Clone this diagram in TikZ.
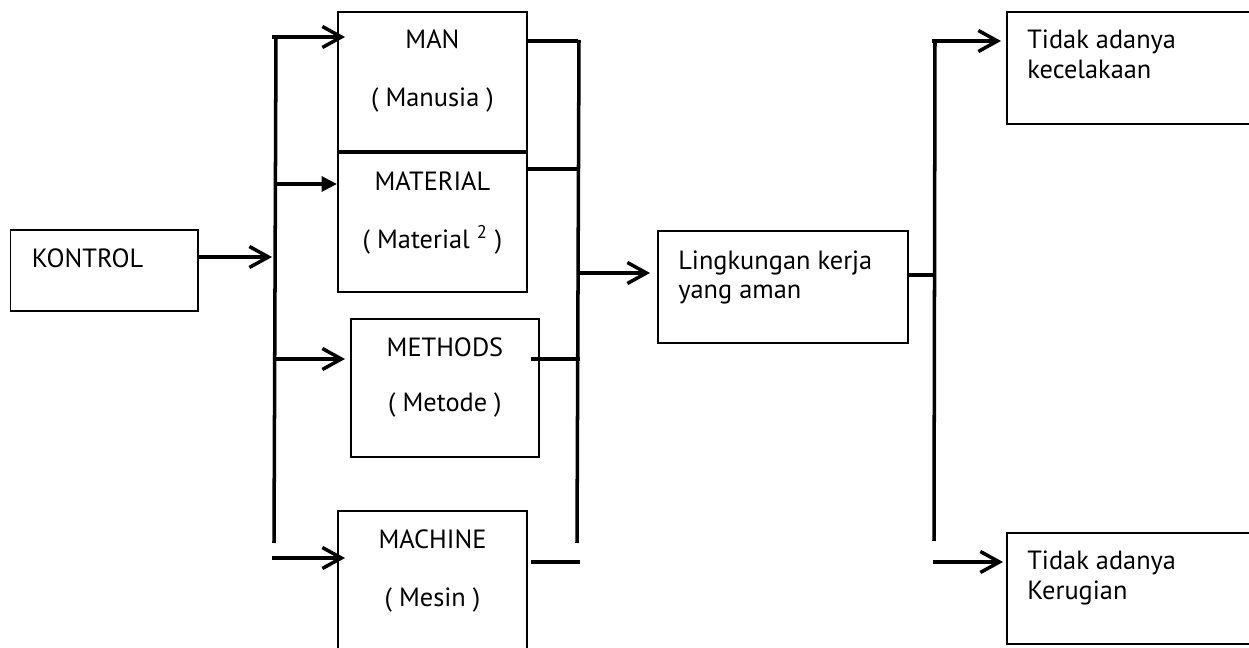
\documentclass[tikz,border=0pt]{standalone}
\usepackage{fontspec}
\setmainfont{PT Sans}
\usetikzlibrary{calc,positioning,arrows.meta}

\begin{document}
\begin{tikzpicture}[x=0.02cm, y=-0.02cm, font=\fontsize{15}{17}\selectfont,
  block/.style={draw, line width=1.1pt, anchor=north west, inner sep=0pt},
  midtext/.style={anchor=north, inner sep=0pt, align=center},
  lefttext/.style={anchor=north west, inner sep=0pt, align=left},
  conn/.style={line width=2pt},
  arr/.style={conn, -{Straight Barb[length=0.38cm, width=0.42cm]}},
  farr/.style={conn, -{Triangle[length=0.31cm, width=0.3cm]}}]

  \useasboundingbox (0,0) rectangle (1249,648);
  \clip (0,0) rectangle (1249,648);

  % Blocks
  \node[block, minimum width=3.76cm, minimum height=1.62cm] (kontrol) at (9.5,229) {};
  \node[block, minimum width=3.78cm, minimum height=2.79cm] (man) at (337,10.7) {};
  \node[block, minimum width=3.78cm, minimum height=2.78cm, below=0cm of man] (material) {};
  \node[block, minimum width=3.76cm, minimum height=2.77cm] (methods) at (350,318) {};
  \node[block, minimum width=3.78cm, minimum height=3cm] (machine) at (337,510) {};
  \node[block, minimum width=5cm, minimum height=2.24cm] (lingkungan) at (657,230) {};
  \node[block, minimum width=5.2cm, minimum height=2.24cm] (kecelakaan) at (1006,10.7) {};
  \node[block, minimum width=5.2cm, minimum height=2.23cm] (kerugian) at (1006,531.7) {};

  % Texts
  \node[lefttext] (kontroltxt) at ($(kontrol.north west)+(22,19)$) {KONTROL};
  \node[midtext] (mantxt) at ($(man.north)+(0,19)$) {MAN\\[16pt]( Manusia )};
  \node[midtext] (materialtxt) at ($(material.north)+(0,19)$) {MATERIAL\\[16pt]( Material \textsuperscript{2} )};
  \node[midtext] (methodstxt) at ($(methods.north)+(0,19)$) {METHODS\\[14.5pt]( Metode )};
  \node[midtext] (machinetxt) at ($(machine.north)+(0,19)$) {MACHINE\\[16pt]( Mesin )};
  \node[lefttext] (lingkungantxt) at ($(lingkungan.north west)+(21,20)$) {Lingkungan kerja\\yang aman};
  \node[lefttext] (kecelakaantxt) at ($(kecelakaan.north west)+(21,19)$) {Tidak adanya\\kecelakaan};
  \node[lefttext] (kerugiantxt) at ($(kerugian.north west)+(21,19)$) {Tidak adanya\\Kerugian};

  % Input bar
  \coordinate (kin) at (272,257);
  \coordinate (ltop) at (276,37);
  \coordinate (lbot) at (274,543);
  \coordinate (lman) at (272,37);
  \coordinate (lmat) at (275,184);
  \coordinate (lmet) at (273,359);
  \coordinate (lmac) at (272,558);
  \draw[arr] (kontrol.east |- kin) -- (kin);
  \draw[conn] (ltop) -- (lbot);
  \draw[arr] (lman) -- ($(lman -| man.west)+(8,0)$);
  \draw[farr] (lmat) -- (lmat -| material.west);
  \draw[arr] (lmet) -- ($(lmet -| methods.west)+(-5,0)$);
  \draw[arr] (lmac) -- ($(lmac -| machine.west)+(8,0)$);

  % Output bar
  \coordinate (rman) at (578,41);
  \coordinate (rmat) at (578,169);
  \coordinate (rmet) at (580,359);
  \coordinate (rmac) at (580,562);
  \coordinate (rtop) at (579,40);
  \coordinate (rbot) at (577,543);
  \coordinate (rout) at (578,273);
  \draw[conn] (man.east |- rman) -- (rman);
  \draw[conn] (material.east |- rmat) -- (rmat);
  \draw[conn] ($(methods.east |- rmet)+(-9,0)$) -- (rmet);
  \draw[conn] ($(machine.east |- rmac)+(3,0)$) -- (rmac);
  \draw[conn] (rtop) -- (rbot);
  \draw[arr] (rout) -- ($(rout -| lingkungan.west)+(-7,0)$);

  % Result bar
  \coordinate (oin) at (934,275);
  \coordinate (otop) at (932,41);
  \coordinate (obot) at (934,541);
  \coordinate (okrg) at (933,562);
  \draw[conn] (lingkungan.east |- oin) -- (oin);
  \draw[conn] (935,40) -- (obot);
  \draw[arr] (otop) -- ($(otop -| kecelakaan.west)+(-5,0)$);
  \draw[arr] (okrg) -- ($(okrg -| kerugian.west)+(-3,0)$);

\end{tikzpicture}
\end{document}
